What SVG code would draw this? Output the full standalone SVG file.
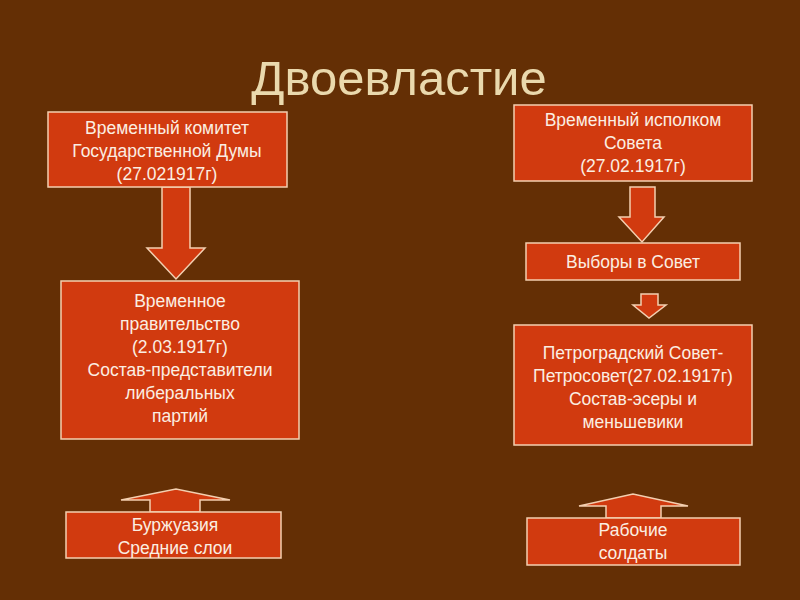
<svg xmlns="http://www.w3.org/2000/svg" width="800" height="600" viewBox="0 0 800 600">
<style>
.b{fill:#d13a0f;stroke:#f3cfb0;stroke-width:1.5}
.t{font-family:"Liberation Sans",Arial,sans-serif;font-size:17.5px;fill:#fbeee2;text-anchor:middle}
.a{fill:#d13a0f;stroke:#f3cfb0;stroke-width:1.5}
</style>
<rect width="800" height="600" fill="#642f05"/>
<text x="399" y="95" font-family="Liberation Sans,Arial,sans-serif" font-size="49" fill="#ead9ad" text-anchor="middle">Двоевластие</text>
<g id="connectors">
<polygon class="a" points="162,187 190,187 190,248 205,248 176,279 147,248 162,248"/>
<polygon class="a" points="630,187 655,187 655,217 664,217 642,242 619,217 630,217"/>
<polygon class="a" points="641,294 658,294 658,305 666,305 649,318 633,305 641,305"/>
<polygon class="a" points="150,512 150,500 121,500 176,489 230,500 200,500 200,512"/>
<polygon class="a" points="606,518 606,506 579,506 633,494 688,506 661,506 661,518"/>
</g>
<g id="n1"><rect class="b" x="48" y="112" width="239" height="75"/>
<text class="t" x="167" y="134">Временный комитет</text><text class="t" x="167" y="157">Государственной Думы</text><text class="t" x="167" y="180">(27.021917г)</text></g>
<g id="n2"><rect class="b" x="61" y="281" width="238" height="158"/>
<text class="t" x="180" y="307">Временное</text><text class="t" x="180" y="330">правительство</text><text class="t" x="180" y="353">(2.03.1917г)</text><text class="t" x="180" y="376">Состав-представители</text><text class="t" x="180" y="399">либеральных</text><text class="t" x="180" y="422">партий</text></g>
<g id="n3"><rect class="b" x="514" y="105" width="238" height="76"/>
<text class="t" x="633" y="126">Временный исполком</text><text class="t" x="633" y="149">Совета</text><text class="t" x="633" y="172">(27.02.1917г)</text></g>
<g id="n4"><rect class="b" x="526" y="243" width="214" height="37"/>
<text class="t" x="633" y="268">Выборы в Совет</text></g>
<g id="n5"><rect class="b" x="514" y="325" width="238" height="120"/>
<text class="t" x="633" y="359">Петроградский Совет-</text><text class="t" x="633" y="382">Петросовет(27.02.1917г)</text><text class="t" x="633" y="405">Состав-эсеры и</text><text class="t" x="633" y="428">меньшевики</text></g>
<g id="n6"><rect class="b" x="66" y="512" width="215" height="46"/>
<text class="t" x="175" y="531">Буржуазия</text><text class="t" x="175" y="554">Средние слои</text></g>
<g id="n7"><rect class="b" x="527" y="518" width="213" height="47"/>
<text class="t" x="633" y="536">Рабочие</text><text class="t" x="633" y="559">солдаты</text></g>
</svg>
